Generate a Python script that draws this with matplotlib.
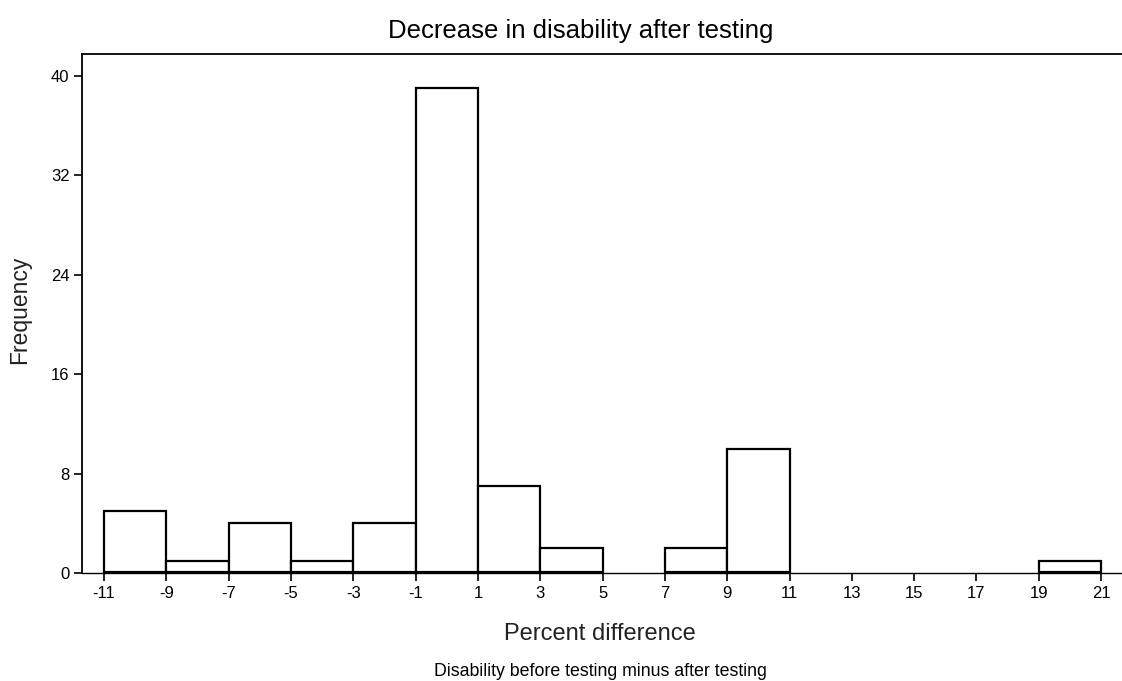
import numpy as np
import matplotlib
matplotlib.use('Agg')
import matplotlib.pyplot as plt

plt.rcParams['font.family'] = ['Liberation Sans', 'DejaVu Sans']
plt.rcParams['axes.unicode_minus'] = False

# histogram bins (left edges, width 2) and counts
bin_left = [-11, -9, -7, -5, -3, -1, 1, 3, 5, 7, 9, 11, 13, 15, 17, 19]
counts = [5, 1, 4, 1, 4, 39, 7, 2, 0, 2, 10, 0, 0, 0, 0, 1]
x_ticks = list(range(-11, 22, 2))
y_ticks = [0, 8, 16, 24, 32, 40]

fig = plt.figure(figsize=(11.22, 6.81), dpi=100)
ax = fig.add_axes([82/1122, 1 - 573/681, 1 - 82/1122, (573 - 54)/681])

for left, c in zip(bin_left, counts):
    if c > 0:
        ax.bar(left, c, width=2, align='edge', facecolor='white',
               edgecolor='black', linewidth=1.6, zorder=3)
        ax.plot([left, left + 2], [0, 0], color='black', lw=3, zorder=4,
                solid_capstyle='butt')

ax.set_xlim(-11.71, 21.67)
ax.set_ylim(0, 41.77)
ax.set_xticks(x_ticks)
ax.set_yticks(y_ticks)
ax.tick_params(direction='out', length=6, width=1.2, labelsize=12, pad=3)
ax.spines['right'].set_visible(False)
for s in ['left', 'top']:
    ax.spines[s].set_linewidth(1.3)
ax.spines['bottom'].set_linewidth(1.0)

fig.text(581/1122, 1 - 31/681, 'Decrease in disability after testing',
         ha='center', va='center', fontsize=18.5)
fig.text(600/1122, 1 - 634/681, 'Percent difference',
         ha='center', va='center', fontsize=17, color='#222222')
fig.text(600/1122, 1 - 671/681, 'Disability before testing minus after testing',
         ha='center', va='center', fontsize=12.8)
fig.text(20/1122, 1 - 310/681, 'Frequency', rotation=90,
         ha='center', va='center', fontsize=16.5, color='#222222')

fig.savefig('out.png', dpi=100)
